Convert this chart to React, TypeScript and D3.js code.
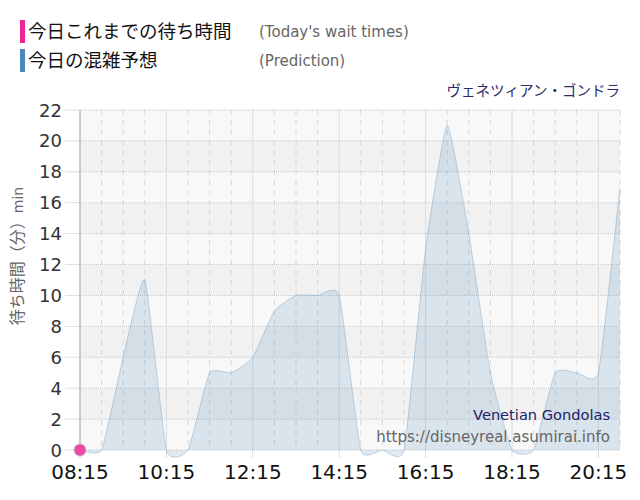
import { scaleLinear, area, line, curveCardinal, range } from "d3";
import { FC } from "react";

// prediction, every 30 min from 08:15
const startTime = "08:15";
const predictionValues = [
  0, 0, 6, 11, 0, 0, 5, 5, 6, 9, 10, 10, 10, 0, 0, 0, 13, 21, 14, 5, 0, 0, 5, 5, 5, 17,
];
// today's actual wait times so far
const actualTimes = ["08:15"];
const actualValues = [0];

const xTickLabels = ["08:15", "10:15", "12:15", "14:15", "16:15", "18:15", "20:15"];
const yTicks = [0, 2, 4, 6, 8, 10, 12, 14, 16, 18, 20, 22];

const legendLabels = ["今日これまでの待ち時間", "今日の混雑予想"];
const legendSubLabels = ["(Today's wait times)", "(Prediction)"];
const legendColors = ["#f0259a", "#4a86b8"];
const title = "ヴェネツィアン・ゴンドラ";
const yTitle = "待ち時間（分）";
const watermark = ["Venetian Gondolas", "https://disneyreal.asumirai.info"];

const toMin = (s: string) => {
  const [h, m] = s.split(":").map(Number);
  return h * 60 + m;
};

const W = 640;
const H = 500;
const left = 80;
const right = 620;
const top = 110;
const bottom = 450;

const JP = "'Noto Sans CJK JP', sans-serif";
const LAT = "'DejaVu Sans', Verdana, sans-serif";

const App: FC = () => {
  const t0 = toMin(startTime);
  const prediction = predictionValues.map((v, i) => ({ t: t0 + i * 30, v }));
  const actual = actualTimes.map((t, i) => ({ t: toMin(t), v: actualValues[i] }));

  const x = scaleLinear().domain([t0, t0 + 12.5 * 60]).range([left, right]);
  const y = scaleLinear().domain([0, 22]).range([bottom, top]);

  const curve = curveCardinal.tension(0.55);
  const areaGen = area<{ t: number; v: number }>()
    .x((d) => x(d.t))
    .y0(y(0))
    .y1((d) => y(d.v))
    .curve(curve);
  const lineGen = line<{ t: number; v: number }>()
    .x((d) => x(d.t))
    .y((d) => y(d.v))
    .curve(curve);

  const halfHours = range(t0, t0 + 12.5 * 60 + 1, 30);
  const bands = range(0, 22, 2);

  return (
    <svg
      width={W}
      height={H}
      style={{ position: "absolute", left: 0, top: 0, background: "#fff" }}
    >
      {/* legend */}
      {legendLabels.map((l, i) => (
        <g key={l}>
          <rect x={20} y={20 + i * 29} width={5} height={23} fill={legendColors[i]} />
          <text x={28} y={38 + i * 29} fontFamily={JP} fontSize={18.5} fill="#111">
            {l}
          </text>
          <text x={259} y={37 + i * 29} fontFamily={LAT} fontSize={15} fill="#666">
            {legendSubLabels[i]}
          </text>
        </g>
      ))}
      <text x={620} y={96} textAnchor="end" fontFamily={JP} fontSize={14.5} fill="#2b2b6b">
        {title}
      </text>

      {/* plot background bands */}
      {bands.map((b, i) => (
        <rect
          key={b}
          x={left}
          y={y(b + 2)}
          width={right - left}
          height={y(b) - y(b + 2)}
          fill={i % 2 === 0 ? "#f8f8f8" : "#f1f1f1"}
        />
      ))}

      {/* vertical grid */}
      {halfHours.map((t, i) =>
        i % 4 === 0 ? (
          <line key={t} x1={x(t)} x2={x(t)} y1={top} y2={bottom + 8} stroke="#dcdcdc" />
        ) : (
          <line
            key={t}
            x1={x(t)}
            x2={x(t)}
            y1={top}
            y2={bottom}
            stroke="#d6d6d6"
            strokeDasharray="5,5"
          />
        )
      )}

      {/* horizontal grid */}
      {yTicks.map((v) => (
        <g key={v}>
          <line x1={65} x2={left} y1={y(v)} y2={y(v)} stroke="#dddddd" />
          <line
            x1={left}
            x2={right}
            y1={y(v)}
            y2={y(v)}
            stroke="#c8c8c8"
            strokeDasharray="1,1"
          />
          <text
            x={62}
            y={y(v) + 6.5}
            textAnchor="end"
            fontFamily={LAT}
            fontSize={18}
            fill="#333"
          >
            {v}
          </text>
        </g>
      ))}

      {/* prediction area */}
      <path d={areaGen(prediction) ?? ""} fill="rgba(70,130,180,0.17)" />
      <path d={lineGen(prediction) ?? ""} fill="none" stroke="rgba(70,130,180,0.3)" strokeWidth={1} />

      {/* axis line */}
      <line x1={left} x2={left} y1={top} y2={bottom} stroke="#aaa" />

      {/* x tick labels */}
      {xTickLabels.map((l) => (
        <text
          key={l}
          x={x(toMin(l))}
          y={479}
          textAnchor="middle"
          fontFamily={LAT}
          fontSize={20}
          fill="#111"
        >
          {l}
        </text>
      ))}

      {/* y axis title */}
      <text
        transform={`translate(23,256) rotate(-90)`}
        textAnchor="middle"
        fontFamily={JP}
        fontSize={16}
        fill="#666"
      >
        {yTitle}
        <tspan fontFamily={LAT} fontSize={14}>
          min
        </tspan>
      </text>

      {/* watermark */}
      <text x={610} y={420} textAnchor="end" fontFamily={LAT} fontSize={14.6} fill="#22226a">
        {watermark[0]}
      </text>
      <text x={610} y={442} textAnchor="end" fontFamily={LAT} fontSize={15} fill="#666">
        {watermark[1]}
      </text>

      {/* today's actual */}
      {actual.map((d) => (
        <circle
          key={d.t}
          cx={x(d.t)}
          cy={y(d.v)}
          r={6}
          fill="#ee4aa4"
          stroke="#bbb"
          strokeWidth={1}
        />
      ))}
    </svg>
  );
};

export default App;
